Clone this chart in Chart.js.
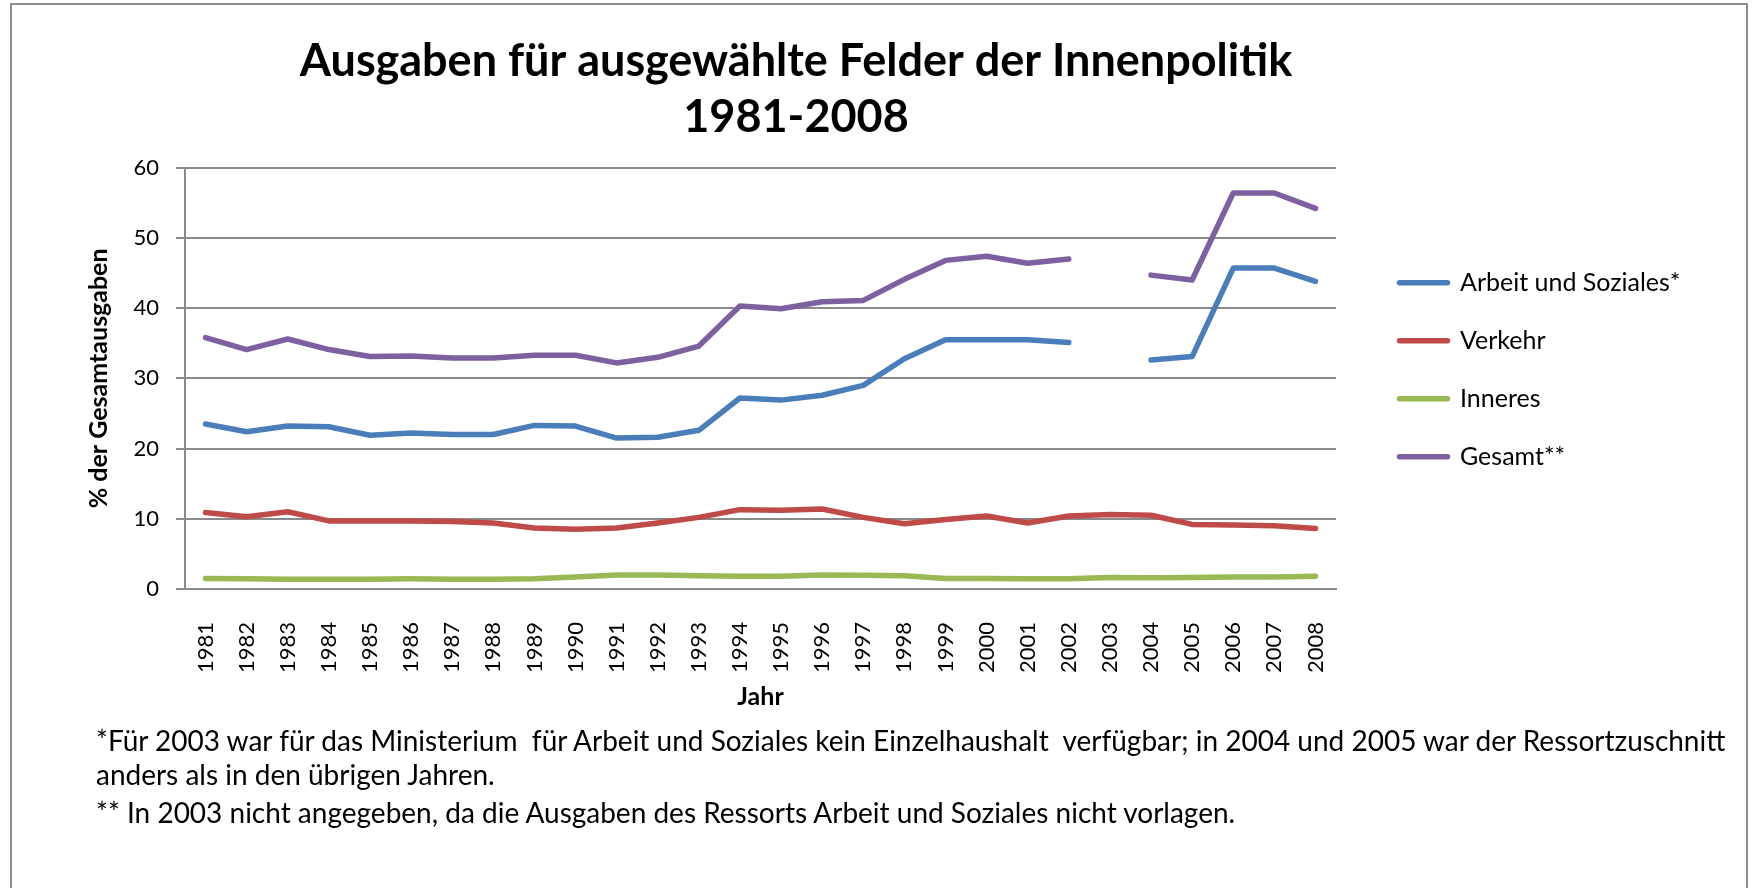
<!DOCTYPE html>
<html>
<head>
<meta charset="utf-8">
<script src="https://cdn.jsdelivr.net/npm/chart.js@4.4.1/dist/chart.umd.min.js"></script>
<style>
  html, body { margin:0; padding:0; background:#fff; overflow:hidden; }
  #frame { position:absolute; left:10px; top:3px; width:1734px; height:1000px; border:2px solid #8e8e8e; border-bottom:none; }
  #chart { position:absolute; left:0; top:0; }
  #notes { position:absolute; left:96px; top:723px; font-family:Lato, sans-serif; font-size:28px; line-height:34px; color:#000; white-space:pre; }
  #notes p { margin:0; }
  #notes p + p { margin-top:4px; }
</style>
</head>
<body>
<div id="frame"></div>
<canvas id="chart" width="1758" height="888"></canvas>
<div id="notes"><p>*Für 2003 war für das Ministerium  für Arbeit und Soziales kein Einzelhaushalt  verfügbar; in 2004 und 2005 war der Ressortzuschnitt
anders als in den übrigen Jahren.</p><p>** In 2003 nicht angegeben, da die Ausgaben des Ressorts Arbeit und Soziales nicht vorlagen.</p></div>
<script>
// values, % der Gesamtausgaben
const years = ['1981','1982','1983','1984','1985','1986','1987','1988','1989','1990','1991','1992','1993','1994',
  '1995','1996','1997','1998','1999','2000','2001','2002','2003','2004','2005','2006','2007','2008'];
const arbeit = [23.5,22.4,23.2,23.1,21.9,22.2,22.0,22.0,23.3,23.2,21.5,21.6,22.6,27.2,
  26.9,27.6,29.0,32.8,35.5,35.5,35.5,35.1,null,32.6,33.1,45.7,45.7,43.8];
const verkehr = [10.9,10.3,11.0,9.7,9.7,9.7,9.6,9.4,8.7,8.5,8.7,9.4,10.2,11.3,
  11.2,11.4,10.2,9.3,9.9,10.4,9.4,10.4,10.6,10.5,9.2,9.1,9.0,8.6];
const inneres = [1.5,1.45,1.4,1.4,1.4,1.45,1.4,1.4,1.45,1.7,2.0,2.0,1.9,1.8,
  1.8,2.0,1.95,1.9,1.5,1.5,1.45,1.45,1.65,1.6,1.65,1.7,1.7,1.8];
const gesamt = [35.8,34.1,35.6,34.1,33.1,33.2,32.9,32.9,33.3,33.3,32.2,33.0,34.6,40.3,
  39.9,40.9,41.1,44.1,46.8,47.4,46.4,47.0,null,44.7,44.0,56.4,56.4,54.2];
const yTicks = [0,10,20,30,40,50,60];

const axisGrey = '#8a8a8a';
Chart.defaults.font.family = 'Lato, sans-serif';
Chart.defaults.color = '#000';

function series(label, data, color) {
  return { label, data, borderColor: color, backgroundColor: color, borderWidth: 5.5,
    borderCapStyle: 'round', borderJoinStyle: 'round', pointRadius: 0, tension: 0, spanGaps: false };
}

// move the legend block a bit right, away from the plot, and let its text run past the padding
const legendShift = {
  id: 'legendShift',
  afterLayout(chart) {
    chart.legend.left += 30.5;
    chart.legend.right = chart.width;
    chart.legend.width = chart.legend.right - chart.legend.left;
  }
};

new Chart(document.getElementById('chart'), {
  type: 'line',
  data: {
    labels: years,
    datasets: [
      series('Arbeit und Soziales*', arbeit, '#4a7ebb'),
      series('Verkehr', verkehr, '#be4b48'),
      series('Inneres', inneres, '#98b954'),
      series('Gesamt**', gesamt, '#7d60a0')
    ]
  },
  options: {
    responsive: false,
    animation: false,
    devicePixelRatio: 1,
    layout: { padding: { left: 0, right: 166, top: 0, bottom: 148.6 } },
    plugins: {
      title: {
        display: true,
        text: ['Ausgaben für ausgewählte Felder der Innenpolitik', '1981-2008'],
        font: { size: 45, weight: 'bold', lineHeight: 1.25 },
        color: '#000',
        padding: { top: 33.6, bottom: 21.6 }
      },
      legend: {
        position: 'right',
        maxWidth: 256,
        labels: { font: { size: 25 }, color: '#000', boxWidth: 48, boxHeight: 0, padding: 33 }
      },
      tooltip: { enabled: false }
    },
    scales: {
      x: {
        offset: true,
        grid: { display: false, drawTicks: false },
        border: { display: true, color: axisGrey, width: 2 },
        ticks: { font: { size: 22 }, color: '#000', maxRotation: 90, minRotation: 90, padding: 33, autoSkip: false },
        title: { display: true, text: 'Jahr', font: { size: 25, weight: 'bold' }, color: '#000', padding: { top: 0, bottom: 27 } },
        afterFit(s) { s.height = 150.4; }
      },
      y: {
        min: 0, max: 60,
        afterBuildTicks(s) { s.ticks = yTicks.map(v => ({ value: v })); },
        grid: { color: axisGrey, lineWidth: 2, tickLength: 9 },
        border: { display: true, color: axisGrey, width: 2 },
        ticks: { font: { size: 22 }, color: '#000', padding: 17 },
        title: { display: true, text: '% der Gesamtausgaben', font: { size: 25, weight: 'bold' }, color: '#000', padding: { top: 83.7, bottom: 0 } },
        afterFit(s) { s.width = 185; }
      }
    }
  },
  plugins: [legendShift]
});
</script>
</body>
</html>
